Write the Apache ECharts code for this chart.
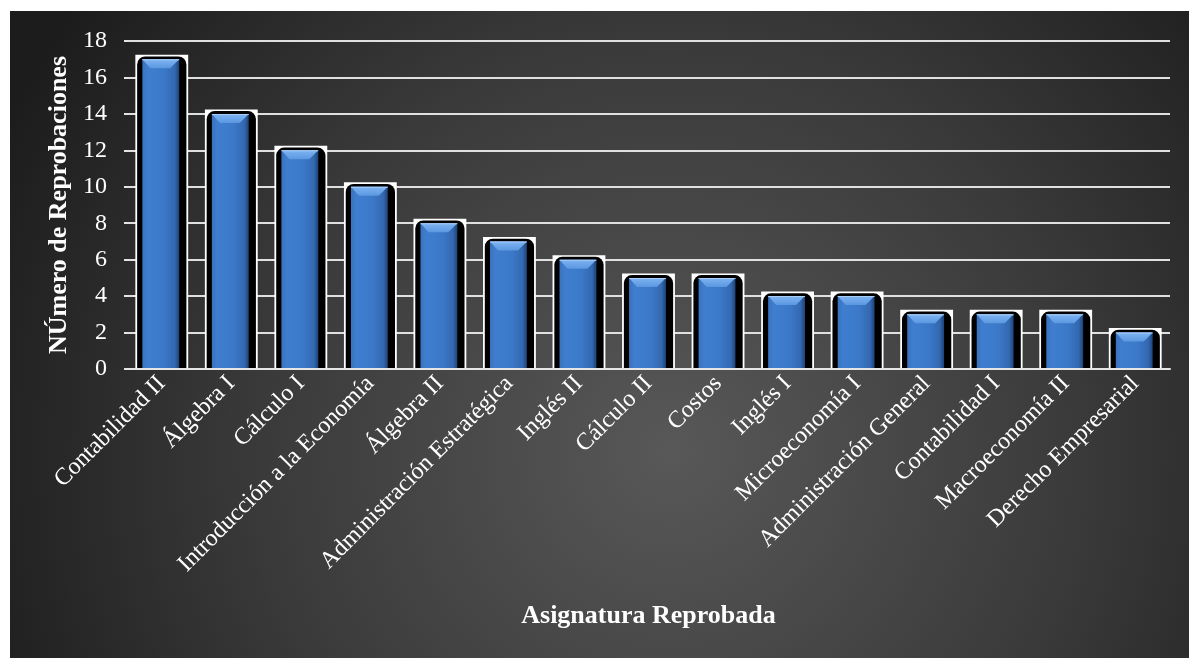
<!DOCTYPE html>
<html>
<head>
<meta charset="utf-8">
<script src="https://cdn.jsdelivr.net/npm/echarts@6/dist/echarts.min.js"></script>
<style>
html,body{margin:0;padding:0;background:#ffffff;width:1189px;height:658px;overflow:hidden;}
#chart{position:absolute;left:10px;top:11px;width:1179px;height:647px;}
</style>
</head>
<body>
<div id="chart"></div>
<script>
const categories = ['Contabilidad II','Álgebra I','Cálculo I','Introducción a la Economía','Álgebra II','Administración Estratégica','Inglés II','Cálculo II','Costos','Inglés I','Microeconomía I','Administración General','Contabilidad I','Macroeconomía II','Derecho Empresarial'];
const reprobaciones = [17,14,12,10,8,7,6,5,5,4,4,3,3,3,2];
const yTicks = [0,2,4,6,8,10,12,14,16,18];

const FONT = "'Liberation Serif','Times New Roman',serif";
const chart = echarts.init(document.getElementById('chart'));

function renderBar(params, api) {
  const idx = api.value(0);
  const val = api.value(1);
  const top = api.coord([idx, val]);
  const base = api.coord([idx, 0]);
  const bw = api.size([1, 0])[0];
  const cx = top[0];
  const yv = top[1];
  const yb = base[1];
  const W = bw * 0.76;
  const x0 = cx - W / 2;
  const bluW = bw * 0.53;
  const bx = cx - W / 2 + 7;
  return {
    type: 'group',
    children: [
      { type: 'rect', shape: { x: x0, y: yv - 4.5, width: W, height: yb - yv + 4.5 },
        style: { fill: '#ffffff' } },
      { type: 'rect', shape: { x: x0 + 1.8, y: yv - 2.8, width: W - 3.6, height: yb - yv + 2.8, r: [8, 8, 0, 0] },
        style: { fill: '#000000' } },
      { type: 'rect', shape: { x: bx, y: yv, width: bluW, height: yb - yv },
        style: { fill: new echarts.graphic.LinearGradient(0, 0, 1, 0, [
          { offset: 0, color: '#3a72bd' },
          { offset: 0.15, color: '#3f7ecf' },
          { offset: 0.6, color: '#3b78c8' },
          { offset: 0.88, color: '#3468b0' },
          { offset: 1, color: '#1d4478' }
        ]) } },
      { type: 'polygon', shape: { points: [[bx, yv], [bx + bluW, yv], [bx + bluW - 9, yv + 9], [bx + 8, yv + 9]] },
        style: { fill: new echarts.graphic.LinearGradient(0, 0, 0, 1, [
          { offset: 0, color: '#7fb4f2' },
          { offset: 1, color: '#5b97e0' }
        ]) } },
      { type: 'rect', shape: { x: bx, y: yv, width: bluW, height: 1 },
        style: { fill: '#a9cdf5' } }
    ]
  };
}

chart.setOption({
  backgroundColor: new echarts.graphic.RadialGradient(0.56, 0.68, 1.15, [
    { offset: 0, color: '#585858' },
    { offset: 0.55, color: '#3a3a3a' },
    { offset: 1, color: '#1c1c1c' }
  ]),
  animation: false,
  textStyle: { fontFamily: FONT },
  grid: { left: 117, right: 19, top: 30, bottom: 289, containLabel: false },
  xAxis: {
    type: 'category',
    data: categories,
    name: 'Asignatura Reprobada',
    nameLocation: 'middle',
    nameGap: 234,
    nameTextStyle: { color: '#ffffff', fontSize: 26, fontWeight: 'bold', fontFamily: FONT },
    axisLine: { show: true, lineStyle: { color: '#e6e6e6', width: 2 } },
    axisTick: { show: false },
    axisLabel: { color: '#ffffff', fontSize: 24, rotate: 45, interval: 0, margin: 11, fontFamily: FONT },
    z: 5
  },
  yAxis: {
    type: 'value',
    min: yTicks[0],
    max: yTicks[yTicks.length - 1],
    interval: 2,
    name: 'NÚmero de Reprobaciones',
    nameLocation: 'middle',
    nameGap: 48,
    nameRotate: 90,
    nameTextStyle: { color: '#ffffff', fontSize: 26, fontWeight: 'bold', fontFamily: FONT },
    axisLine: { show: false },
    axisTick: { show: true, length: 3, lineStyle: { color: '#e6e6e6', width: 2 } },
    axisLabel: { color: '#ffffff', fontSize: 24, margin: 20, fontFamily: FONT },
    splitLine: { show: true, lineStyle: { color: '#e0e0e0', width: 2 } }
  },
  series: [{
    type: 'custom',
    renderItem: renderBar,
    encode: { x: 0, y: 1 },
    data: reprobaciones.map((v, i) => [i, v]),
    z: 3
  }]
});
</script>
</body>
</html>
